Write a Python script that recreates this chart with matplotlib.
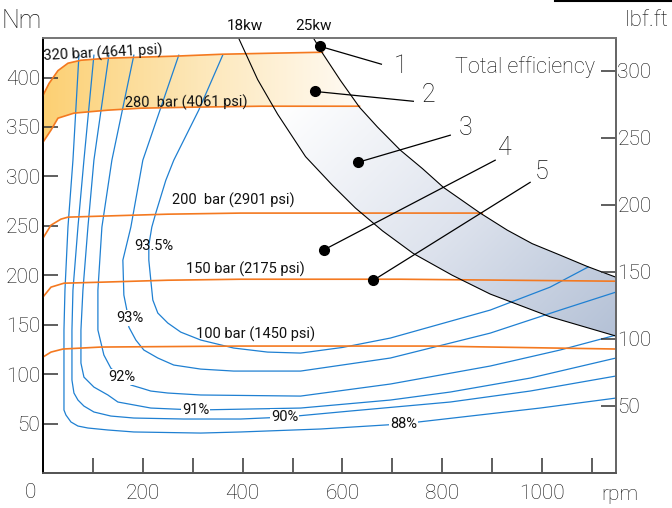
import numpy as np
import matplotlib.pyplot as plt
from matplotlib.patches import Polygon
from matplotlib.lines import Line2D
from matplotlib.colors import LinearSegmentedColormap

# --- データ (rpm, Nm) ---
RPM_MAX = 1148
NM_MAX = 440

# 圧力ライン
p320_rpm = [0, 12, 30, 50, 76, 130, 196, 262, 360, 456, 560]
p320_nm = [382, 394, 407, 414.5, 417.5, 419.6, 420.6, 421.6, 423.6, 424.6, 425.6]
p280_rpm = [0, 16, 30, 62, 130, 196, 296, 436, 634]
p280_nm = [334.6, 346.8, 358.9, 364, 367, 369, 370, 371, 371]
p200_rpm = [0, 16, 36, 50, 116, 250, 396, 616, 880]
p200_nm = [237.6, 250.7, 256.8, 258.8, 259.8, 261.8, 262.9, 262.9, 262.9]
p150_rpm = [0, 16, 42, 116, 250, 396, 716, 1148]
p150_nm = [178, 188, 192, 193, 195, 196, 196, 194]
p100_rpm = [0, 16, 40, 116, 396, 776, 1148]
p100_nm = [117.3, 122.3, 125.4, 127.4, 128.4, 128.4, 125.4]

# 出力ライン 18kw / 25kw
kw18_rpm = [392, 430, 470, 526, 580, 626, 680, 742, 820, 896, 1016, 1148]
kw18_nm = [439.8, 398, 363, 320, 291, 268, 245, 222, 200, 181, 158, 138.5]
kw25_rpm = [542, 560, 596, 634, 670, 716, 760, 802, 876, 930, 980, 1036, 1090, 1148]
kw25_nm = [439.8, 424.6, 397, 370, 350, 326.5, 308, 289, 262.9, 245.7, 232, 220.4, 209, 198]

# 効率の等高線
eff88_rpm = [72, 60, 50, 44, 42, 42, 46, 56, 70, 90, 130, 182, 316, 396, 556, 716, 856, 996, 1148]
eff88_nm = [422.6, 316.4, 248.7, 185, 144.6, 63.7, 58.6, 51.6, 47.5, 45.5, 43.5, 41.5, 40.4,
            41.5, 44.5, 49.5, 57.6, 65.7, 75.8]
eff90_rpm = [102, 82, 70, 60, 58, 58, 62, 70, 82, 102, 136, 182, 282, 396, 486, 616, 816, 976, 1148]
eff90_nm = [422.6, 316.4, 248.7, 185, 144.6, 94, 80.9, 73.8, 67.7, 61.7, 57.6, 55.6, 54.6,
            54.6, 56.6, 62.7, 71.8, 82.9, 98.1]
eff91_rpm = [132, 102, 90, 80, 76, 76, 82, 102, 130, 150, 216, 306, 516, 696, 816, 976, 1148]
eff91_nm = [422.6, 316.4, 248.7, 185, 144.6, 111.2, 97, 86.9, 78.9, 71.8, 65.7, 63.7, 65.7,
            73.8, 81.9, 96, 116.3]
eff92_rpm = [182, 138, 118, 110, 110, 122, 136, 176, 196, 216, 250, 316, 516, 696, 896, 1036, 1148]
eff92_nm = [422.6, 316.4, 248.7, 185, 144.6, 119.3, 106, 89, 86, 82.9, 80.9, 78.9, 77.8,
            90, 108.2, 124.4, 139.5]
eff93_rpm = [272, 200, 176, 160, 162, 168, 172, 186, 202, 230, 262, 316, 382, 516, 696, 896,
             1036, 1148]
eff93_nm = [422.6, 316.4, 248.7, 215.3, 180, 164.8, 147.6, 134.5, 124.4, 116.3, 109.2, 105.1,
            103.1, 103.1, 116.3, 141.5, 164.8, 183]
eff935_rpm = [360, 312, 262, 246, 226, 218, 212, 212, 216, 220, 230, 250, 276, 316, 382, 450,
              516, 600, 696, 896, 1016, 1092]
eff935_nm = [422.6, 367, 316.4, 296, 263, 248.7, 230.5, 215.3, 195, 175, 161.8, 151.7, 142.5,
             134.5, 126.4, 122.3, 121.3, 127, 136.5, 164.8, 188, 208.3]

# ラベル
pressure_labels = ["320 bar (4641 psi)", "280  bar (4061 psi)", "200  bar (2901 psi)",
                   "150 bar (2175 psi)", "100 bar (1450 psi)"]
pressure_label_pos = [(120, 424.5), (286, 374), (382, 276), (406, 206), (426, 140)]
pressure_label_rot = [3, 0.5, 0, 0, 0]
eff_labels = ["93.5%", "93%", "92%", "91%", "90%", "88%"]
eff_label_pos = [(222, 229.5), (174, 156.7), (158, 97), (306, 63.7), (484, 56.6), (722, 49.5)]

callout_dot = [(554, 431.7), (544, 386), (632, 314.4), (562, 225.5), (662, 195)]
callout_end = [(678, 413.5), (742, 376), (816, 341.7), (906, 316.4), (976, 294)]
callout_txt = [(716, 411.5), (772, 382), (846, 348.8), (926, 328.6), (998, 304.3)]

x_ticks = [100, 200, 300, 400, 500, 600, 700, 800, 900, 1000, 1100]
x_labels = ["", "200", "", "400", "", "600", "", "800", "", "1000", ""]
nm_ticks = [50, 100, 150, 200, 250, 300, 350, 400]
lbf_ticks = [50, 100, 150, 200, 250, 300]
NM_PER_LBFFT = 1.3558

ORANGE = "#f47920"
BLUE = "#1f80d2"
FONT = ["Roboto", "DejaVu Sans"]
TXT = dict(family=FONT, fontweight="light", color="#111111")
SMALL = dict(family=FONT, fontweight="normal", color="#111111")

W, H = 672, 508
fig = plt.figure(figsize=(W / 100, H / 100), dpi=100)
ax = fig.add_axes([43 / W, 1 - 473 / H, (616 - 43) / W, (473 - 38) / H])
ax.set_xlim(0, RPM_MAX)
ax.set_ylim(0, NM_MAX)

# --- グラデーション塗り ---
gx, gy = np.meshgrid(np.linspace(0, RPM_MAX, 400), np.linspace(0, NM_MAX, 300))

orange_cmap = LinearSegmentedColormap.from_list("o", ["#fcd073", "#fde7b8", "#fffaf2"])
t_o = np.clip(gx / 620, 0, 1)
img = ax.imshow(orange_cmap(t_o), extent=[0, RPM_MAX, 0, NM_MAX], origin="lower",
                aspect="auto", zorder=1, interpolation="bilinear")
poly_o = Polygon(list(zip(p320_rpm, p320_nm)) + list(zip(p280_rpm, p280_nm))[::-1],
                 closed=True, transform=ax.transData, facecolor="none", edgecolor="none")
ax.add_patch(poly_o)
img.set_clip_path(poly_o)

blue_cmap = LinearSegmentedColormap.from_list("b", ["#ffffff", "#dfe4ee", "#b4c1d6"])
t_b = np.clip(((gx - 470) / 2 + (370 - gy)) / ((RPM_MAX - 470) / 2 + 232), 0, 1)
img2 = ax.imshow(blue_cmap(t_b), extent=[0, RPM_MAX, 0, NM_MAX], origin="lower",
                 aspect="auto", zorder=1, interpolation="bilinear")
top_nm = p280_nm[-1]
x_in = np.interp(top_nm, kw18_nm[::-1], kw18_rpm[::-1])
inner = [(x_in, top_nm)] + [(r, n) for r, n in zip(kw18_rpm, kw18_nm) if n < top_nm]
outer = [(r, n) for r, n in zip(kw25_rpm, kw25_nm) if n <= top_nm][::-1]
poly_b = Polygon(inner + outer, closed=True, transform=ax.transData,
                 facecolor="none", edgecolor="none")
ax.add_patch(poly_b)
img2.set_clip_path(poly_b)

# --- 等高線 ---
for r, n in [(eff88_rpm, eff88_nm), (eff90_rpm, eff90_nm), (eff91_rpm, eff91_nm),
             (eff92_rpm, eff92_nm), (eff93_rpm, eff93_nm), (eff935_rpm, eff935_nm)]:
    ax.plot(r, n, color=BLUE, lw=0.9, zorder=3)

for r, n in [(p320_rpm, p320_nm), (p280_rpm, p280_nm), (p200_rpm, p200_nm),
             (p150_rpm, p150_nm), (p100_rpm, p100_nm)]:
    ax.plot(r, n, color=ORANGE, lw=1.2, zorder=4)

ax.plot(kw18_rpm, kw18_nm, color="black", lw=0.8, zorder=5)
ax.plot(kw25_rpm, kw25_nm, color="black", lw=0.8, zorder=5)

for txt, (x, y), rot in zip(pressure_labels, pressure_label_pos, pressure_label_rot):
    ax.text(x, y, txt, fontsize=10.5, ha="center", va="center", rotation=rot, zorder=6, **SMALL)

for i, (txt, (x, y)) in enumerate(zip(eff_labels, eff_label_pos)):
    bbox = None if i == 0 else dict(facecolor="white", edgecolor="none", pad=0.5)
    ax.text(x, y, txt, fontsize=10.5, ha="center", va="center", bbox=bbox, zorder=6, **SMALL)

for i in range(5):
    (dx, dy), (ex, ey), (tx, ty) = callout_dot[i], callout_end[i], callout_txt[i]
    ax.plot([dx, ex], [dy, ey], color="black", lw=0.9, zorder=7)
    ax.plot(dx, dy, "o", color="black", ms=7, zorder=8)
    ax.text(tx, ty, str(i + 1), fontsize=18, ha="center", va="center", zorder=8, **TXT)

ax.text(1106, 410.5, "Total efficiency", fontsize=15.5, ha="right", va="center",
        zorder=8, **TXT)

# --- 軸 ---
ax.set_xticks(x_ticks)
ax.set_xticklabels(x_labels, fontsize=15, **TXT)
ax.set_yticks(nm_ticks)
ax.set_yticklabels([str(v) for v in nm_ticks], fontsize=15, **TXT)
ax.tick_params(axis="x", direction="in", length=11, width=1.1, color="#333333", pad=8)
ax.tick_params(axis="y", direction="in", length=11, width=1.1, color="#333333", pad=2)

ax2 = ax.twinx()
ax2.set_ylim(0, NM_MAX / NM_PER_LBFFT)
ax2.set_yticks(lbf_ticks)
ax2.set_yticklabels([str(v) for v in lbf_ticks], fontsize=15, **TXT)
ax2.tick_params(axis="y", direction="in", length=11, width=1.1, color="#333333", pad=1)

for a in (ax, ax2):
    a.spines["left"].set_color("black")
    a.spines["left"].set_linewidth(1.3)
    a.spines["bottom"].set_color("#555555")
    a.spines["bottom"].set_linewidth(1.3)
    a.spines["top"].set_color("#777777")
    a.spines["top"].set_linewidth(1.3)
    a.spines["right"].set_color("#666666")
    a.spines["right"].set_linewidth(1.3)


def ftext(x, y, s, **kw):
    fig.text(x / W, 1 - y / H, s, ha="center", va="center", **kw)


ftext(22, 21, "Nm", fontsize=18, **TXT)
ftext(646, 20, "lbf.ft", fontsize=16, **TXT)
ftext(30, 493, "0", fontsize=15, **TXT)
ftext(620, 495, "rpm", fontsize=15, **TXT)
ftext(245, 26, "18kw", fontsize=11, **SMALL)
ftext(314, 26, "25kw", fontsize=11, **SMALL)
fig.add_artist(Line2D([555 / W, 1], [1 - 1 / H, 1 - 1 / H], color="black", lw=1.5))

fig.savefig("out.png", dpi=100)
